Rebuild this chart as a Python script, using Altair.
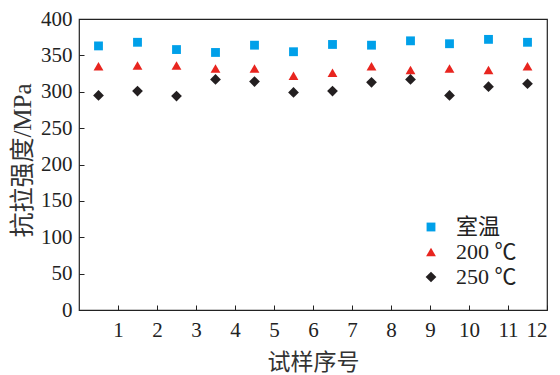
import altair as alt
import pandas as pd

x_pos = [0.5, 1.5, 2.5, 3.5, 4.5, 5.5, 6.5, 7.5, 8.5, 9.5, 10.5, 11.5]
room_temp = [363, 368, 358, 354, 364, 355, 365, 364, 370, 366, 372, 368]
t200 = [335, 336, 336, 332, 332, 322, 326, 335, 330, 332, 330, 335]
t250 = [295, 301, 294, 317, 314, 299, 301, 313, 317, 295, 307, 311]
series_names = ["室温", "200 ℃", "250 ℃"]
colors = ["#00a0e9", "#e8251f", "#231f20"]
shapes = ["square", "triangle-up", "diamond"]
marker_sizes = [78, 115, 115]
x_ticks = list(range(1, 13))
y_ticks = list(range(0, 401, 50))

rows = []
for name, vals in zip(series_names, [room_temp, t200, t250]):
    for x, v in zip(x_pos, vals):
        rows.append({"sample": x, "strength": v, "series": name})
df = pd.DataFrame(rows)

FONT = "'Liberation Serif', 'Times New Roman', 'Noto Sans CJK SC', serif"
CJK = "'Noto Sans CJK SC', sans-serif"

chart = alt.Chart(df).mark_point(filled=True, opacity=1).encode(
    x=alt.X("sample:Q", scale=alt.Scale(domain=[0, 12], nice=False, zero=False),
            axis=alt.Axis(values=x_ticks, title="试样序号", offset=-5, tickSize=5,
                          domain=False, grid=False, labelPadding=9,
                          labelFont=FONT, labelFontSize=21, labelColor="#222",
                          tickColor="#222", titleFont=CJK, titleFontSize=23,
                          titleFontWeight="normal", titleColor="#333",
                          titlePadding=11)),
    y=alt.Y("strength:Q", scale=alt.Scale(domain=[0, 400], nice=False),
            axis=alt.Axis(values=y_ticks, title="抗拉强度/MPa", offset=-5, tickSize=5,
                          domain=False, grid=False, labelPadding=7,
                          labelFont=FONT, labelFontSize=21, labelColor="#222",
                          tickColor="#222", titleFont=FONT, titleFontSize=25,
                          titleFontWeight="normal", titleColor="#333",
                          titleX=-62, titleY=141, titleAlign="center",
                          titleBaseline="middle", titleAngle=-90)),
    color=alt.Color("series:N", scale=alt.Scale(domain=series_names, range=colors),
                    legend=alt.Legend(title=None, orient="none", legendX=341, legendY=197,
                                      labelFont=FONT, labelFontSize=22, labelColor="#222",
                                      symbolSize=60, rowPadding=3, labelOffset=14)),
    shape=alt.Shape("series:N", scale=alt.Scale(domain=series_names, range=shapes),
                    legend=None),
    size=alt.Size("series:N", scale=alt.Scale(domain=series_names, range=marker_sizes),
                  legend=None),
).properties(
    width=468, height=291,
    autosize=alt.AutoSizeParams(type="none"),
    padding={"left": 71, "top": 11, "right": 5, "bottom": 65},
).configure_view(stroke="#222", strokeWidth=1.2)

chart.save("out.html", embed_options={"renderer": "svg", "actions": False})
